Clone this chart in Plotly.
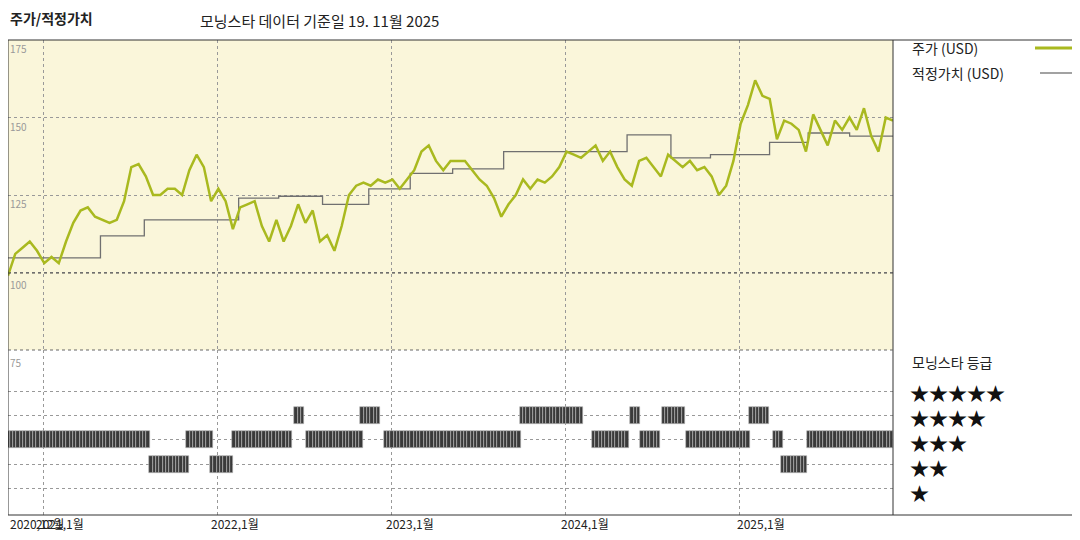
import pandas as pd
import plotly.graph_objects as go

# price (USD), roughly evenly spaced from 2020-10-19 to 2025-11-19
price = [99, 106, 108, 110, 107, 103, 105, 103, 110, 116, 120, 121, 118, 117, 116, 117,
         123, 134, 135, 131, 125, 125, 127, 127, 125, 133, 138, 134, 123, 127, 123, 114,
         121, 122, 123, 115, 110, 117, 110, 115, 122, 116, 120, 110, 112, 107, 115, 125,
         128, 129, 128, 130, 129, 130, 127, 130, 133, 139, 141, 136, 133, 136, 136, 136,
         133, 130, 128, 124, 118, 122, 125, 130, 127, 130, 129, 131, 134, 139, 138, 137,
         139, 141, 136, 139, 134, 130, 128, 136, 137, 134, 131, 138, 136, 134, 136, 133,
         134, 131, 125, 128, 136, 148, 154, 162, 157, 156, 143, 149, 148, 146, 139, 151,
         146, 141, 149, 146, 150, 146, 153, 144, 139, 150, 149]
price_start, price_end = "2020-10-19", "2025-11-19"

# fair value steps (USD)
fv_dates = ["2020-10-19", "2021-05-01", "2021-08-01", "2022-02-15", "2022-05-10", "2022-08-10",
            "2022-11-15", "2023-02-10", "2023-05-10", "2023-08-25", "2024-05-10", "2024-08-10",
            "2024-11-01", "2025-03-05", "2025-05-25", "2025-08-20", "2025-11-19"]
fv_values = [104.7, 111.8, 117, 124, 124.6, 122, 127, 132, 133.4, 139, 144.4, 137,
             138, 142, 145, 144, 144]

# morningstar rating segments: start, end, stars
rating_segments = [("2020-10-19", "2021-08-15", 3), ("2021-08-15", "2021-11-01", 2),
                   ("2021-11-01", "2021-12-20", 3), ("2021-12-20", "2022-02-05", 2),
                   ("2022-02-05", "2022-06-10", 3), ("2022-06-15", "2022-07-01", 4),
                   ("2022-07-10", "2022-11-01", 3), ("2022-11-01", "2022-12-10", 4),
                   ("2022-12-20", "2023-10-01", 3), ("2023-10-01", "2024-02-10", 4),
                   ("2024-03-01", "2024-05-10", 3), ("2024-05-20", "2024-06-05", 4),
                   ("2024-06-10", "2024-07-20", 3), ("2024-07-25", "2024-09-10", 4),
                   ("2024-09-15", "2025-01-20", 3), ("2025-01-25", "2025-03-05", 4),
                   ("2025-03-15", "2025-04-01", 3), ("2025-04-01", "2025-05-20", 2),
                   ("2025-05-25", "2025-11-19", 3)]

year_ticks = ["2021-01-01", "2022-01-01", "2023-01-01", "2024-01-01", "2025-01-01"]
year_labels = ["2021,1월", "2022,1월", "2023,1월", "2024,1월", "2025,1월"]

W, H = 1080, 540
OFF = 8  # page body margin
FW, FH = W - 2 * OFF, H - 2 * OFF
def px(x): return (x - OFF) / FW
def py(y): return 1 - (y - OFF) / FH

price_dates = pd.date_range(price_start, price_end, periods=len(price))

r_x, r_y = [], []
for s, e, r in rating_segments:
    for d in pd.date_range(s, e, freq="7D"):
        r_x.append(d)
        r_y.append(r)

fig = go.Figure()
fig.add_trace(go.Scatter(x=fv_dates, y=fv_values, mode="lines", line=dict(color="#707070", width=1.3, shape="hv"),
                         xaxis="x", yaxis="y", hoverinfo="skip"))
fig.add_trace(go.Scatter(x=price_dates, y=price, mode="lines", line=dict(color="#a9b91f", width=2.5),
                         xaxis="x", yaxis="y"))
fig.add_trace(go.Bar(x=r_x, y=[0.7] * len(r_y), base=[r - 0.35 for r in r_y],
                     marker=dict(color="#3a3a3a", line=dict(color="#bbbbbb", width=0.6)),
                     xaxis="x2", yaxis="y2", width=7 * 86400000))

x0, x1 = max(px(4), 0), px(893)
xrange = ["2020-10-19", "2025-11-19"]
grid = dict(showgrid=True, gridcolor="#999999", griddash="dot", gridwidth=1)
fig.update_layout(
    width=FW, height=FH, margin=dict(l=0, r=0, t=0, b=0),
    paper_bgcolor="white", plot_bgcolor="white", showlegend=False, bargap=0,
    font=dict(family="Noto Sans CJK KR", size=13, color="#222"),
    xaxis=dict(domain=[x0, x1], range=xrange, tickvals=year_ticks, showticklabels=False,
               anchor="y", **grid),
    yaxis=dict(domain=[py(350), py(40)], range=[75, 175], tickvals=[100, 125, 150],
               showticklabels=False, zeroline=False, anchor="x", **grid),
    xaxis2=dict(domain=[x0, x1], range=xrange, tickvals=year_ticks, showticklabels=False,
                anchor="y2", **grid),
    yaxis2=dict(domain=[py(515), py(350)], range=[-0.08, 6.68], tickvals=[1, 2, 3, 4, 5],
                showticklabels=False, zeroline=False, anchor="x2", **grid),
)

shapes = [
    dict(type="rect", xref="paper", yref="paper", x0=x0, x1=x1, y0=py(350), y1=py(40),
         fillcolor="#faf6da", line_width=0, layer="below"),
    dict(type="rect", xref="paper", yref="paper", x0=x0, x1=px(1075), y0=py(515), y1=py(40),
         line=dict(color="#333", width=1)),
    dict(type="line", xref="paper", yref="paper", x0=x1, x1=x1, y0=py(515), y1=py(40),
         line=dict(color="#333", width=1)),
    dict(type="line", xref="paper", yref="paper", x0=x0, x1=x1, y0=py(273), y1=py(273),
         line=dict(color="#444", width=1, dash="dot")),
    dict(type="line", xref="paper", yref="paper", x0=x0, x1=x1, y0=py(350), y1=py(350),
         line=dict(color="#666", width=1, dash="dot")),
    dict(type="line", xref="paper", yref="paper", x0=px(1035), x1=px(1072), y0=py(48), y1=py(48),
         line=dict(color="#a9b91f", width=3)),
    dict(type="line", xref="paper", yref="paper", x0=px(1040), x1=px(1072), y0=py(73), y1=py(73),
         line=dict(color="#707070", width=1.3)),
]
fig.update_layout(shapes=shapes)

ann = []
def text(x, y, s, size=13, color="#222", xanchor="left"):
    ann.append(dict(xref="paper", yref="paper", x=px(x), y=py(y), text=s, showarrow=False,
                    xanchor=xanchor, yanchor="middle", font=dict(size=size, color=color)))

text(8, 18, "<b>주가/적정가치</b>", 14)
text(198, 20, "모닝스타 데이터 기준일 19. 11월 2025", 15)
for lab, yy in zip(["175", "150", "125", "100"], [48, 126, 203, 284]):
    text(8, yy, lab, 10, "#999")
text(8, 362, "75", 10, "#999")
text(8, 523, "2020,12월", 12)
for t, lab in zip([34, 209, 384, 559, 735], year_labels):
    text(t, 523, lab, 12)
text(910, 48, "주가 (USD)", 14)
text(910, 73, "적정가치 (USD)", 14)
text(910, 362, "모닝스타 등급", 14)
for n, yy in zip([5, 4, 3, 2, 1], [392, 417, 442, 467, 492]):
    text(908, yy, "★" * n, 19, "#111")
fig.update_layout(annotations=ann)

fig.write_html("out.html")
